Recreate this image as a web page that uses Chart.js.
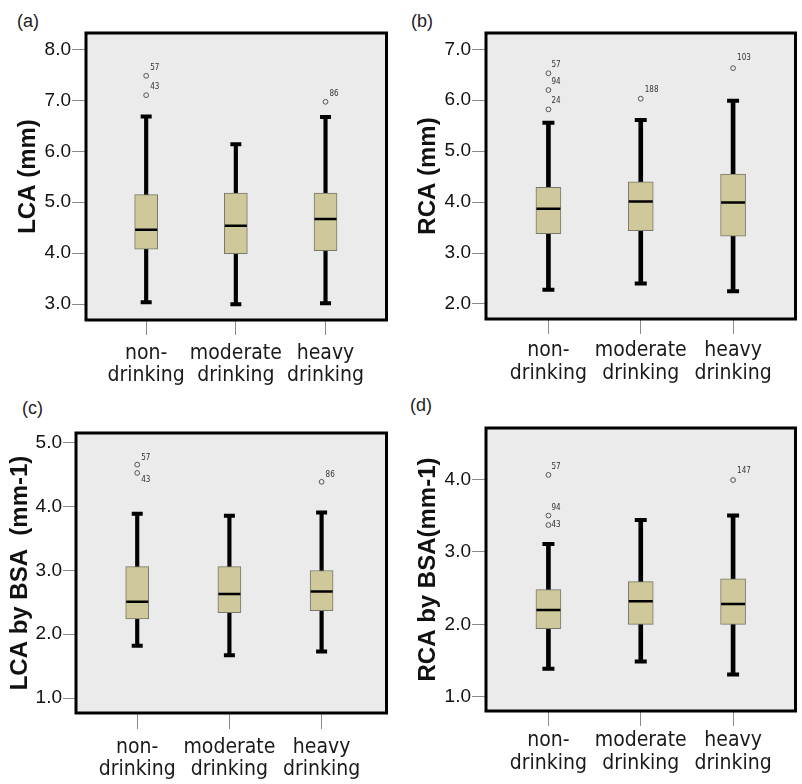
<!DOCTYPE html>
<html><head><meta charset="utf-8">
<script src="https://cdn.jsdelivr.net/npm/chart.js@4.4.0/dist/chart.umd.min.js"></script>
<style>
html,body{margin:0;padding:0;overflow:hidden;background:#fff;width:802px;height:784px}
.panel{position:absolute}
.tag{position:absolute;font:18px 'Liberation Sans',Arial,sans-serif;color:#222;line-height:18px}
</style></head><body>
<div class="tag" style="left:17px;top:12px">(a)</div>
<div class="tag" style="left:411px;top:12px">(b)</div>
<div class="tag" style="left:22px;top:399px">(c)</div>
<div class="tag" style="left:410px;top:396px">(d)</div>
<div class="panel" style="left:0;top:0"><canvas id="ca" width="400" height="390"></canvas></div>
<div class="panel" style="left:400px;top:0"><canvas id="cb" width="410" height="390"></canvas></div>
<div class="panel" style="left:0;top:390px"><canvas id="cc" width="400" height="394"></canvas></div>
<div class="panel" style="left:400px;top:390px"><canvas id="cd" width="410" height="394"></canvas></div>
<script>
// ---------- data ----------
const categories = ['non-drinking', 'moderate drinking', 'heavy drinking'];
const categoryLines = [['non-', 'drinking'], ['moderate', 'drinking'], ['heavy', 'drinking']];

// (a) LCA (mm)
const lcaLower  = [3.04, 3.00, 3.02];
const lcaQ1     = [4.08, 3.99, 4.05];
const lcaMedian = [4.46, 4.54, 4.67];
const lcaQ3     = [5.15, 5.18, 5.18];
const lcaUpper  = [6.68, 6.14, 6.67];
const lcaOutlierValues = [7.48, 7.10, 6.97];
const lcaOutlierGroups = [0, 0, 2];
const lcaOutlierIds    = ['57', '43', '86'];
const lcaTicks = [3, 4, 5, 6, 7, 8];

// (b) RCA (mm)
const rcaLower  = [2.28, 2.40, 2.25];
const rcaQ1     = [3.38, 3.44, 3.33];
const rcaMedian = [3.87, 4.01, 3.99];
const rcaQ3     = [4.29, 4.40, 4.55];
const rcaUpper  = [5.56, 5.61, 5.99];
const rcaOutlierValues = [6.53, 6.20, 5.82, 6.03, 6.63];
const rcaOutlierGroups = [0, 0, 0, 1, 2];
const rcaOutlierIds    = ['57', '94', '24', '188', '103'];
const rcaTicks = [2, 3, 4, 5, 6, 7];

// (c) LCA by BSA (mm-1)
const lcaBsaLower  = [1.82, 1.67, 1.73];
const lcaBsaQ1     = [2.24, 2.34, 2.37];
const lcaBsaMedian = [2.51, 2.63, 2.67];
const lcaBsaQ3     = [3.06, 3.06, 3.00];
const lcaBsaUpper  = [3.89, 3.86, 3.91];
const lcaBsaOutlierValues = [4.66, 4.53, 4.39];
const lcaBsaOutlierGroups = [0, 0, 2];
const lcaBsaOutlierIds    = ['57', '43', '86'];
const lcaBsaTicks = [1, 2, 3, 4, 5];

// (d) RCA by BSA (mm-1)
const rcaBsaLower  = [1.39, 1.49, 1.31];
const rcaBsaQ1     = [1.94, 2.00, 2.00];
const rcaBsaMedian = [2.20, 2.32, 2.28];
const rcaBsaQ3     = [2.48, 2.59, 2.63];
const rcaBsaUpper  = [3.11, 3.44, 3.50];
const rcaBsaOutlierValues = [4.06, 3.50, 3.37, 3.99];
const rcaBsaOutlierGroups = [0, 0, 0, 2];
const rcaBsaOutlierIds    = ['57', '94', '43', '147'];
const rcaBsaTicks = [1, 2, 3, 4];

// ---------- styling ----------
const NARROW = "'DejaVu Sans Condensed', 'Liberation Sans Narrow', sans-serif";
const SANS = "'Liberation Sans', Arial, sans-serif";
const BOX_FILL = '#CEC89B';
const PLOT_BG = '#EBEBEB';

const boxPlugin = {
  id: 'boxFrame',
  beforeDatasetsDraw(chart) {
    const {ctx, chartArea: a} = chart;
    ctx.save();
    ctx.fillStyle = PLOT_BG;
    ctx.fillRect(a.left, a.top, a.right - a.left, a.bottom - a.top);
    ctx.restore();
  },
  afterDatasetsDraw(chart, args, opts) {
    const {ctx, chartArea: a, scales} = chart;
    ctx.save();
    ctx.font = '8px ' + NARROW;
    ctx.fillStyle = '#333';
    ctx.textBaseline = 'middle';
    ctx.textAlign = 'left';
    (opts.values || []).forEach((v, i) => {
      const px = scales.x.getPixelForValue(opts.groups[i]);
      const py = scales.y.getPixelForValue(v);
      const off = opts.offsets[i];
      ctx.fillText(opts.ids[i], px + off[0], py + off[1]);
    });
    ctx.strokeStyle = '#000';
    ctx.lineWidth = 3;
    ctx.strokeRect(a.left, a.top, a.right - a.left, a.bottom - a.top);
    ctx.restore();
  }
};

function makePanel(id, p) {
  const idx = [0, 1, 2];
  const datasets = [
    { type: 'bar', data: idx.map(i => ({x: i, y: [p.lower[i], p.upper[i]]})),
      backgroundColor: '#000', borderWidth: 0, barThickness: p.whisker, grouped: false, order: 4 },
    { type: 'bar', data: idx.map(i => ({x: i, y: [p.q1[i], p.q3[i]]})),
      backgroundColor: BOX_FILL, borderColor: '#77776a', borderWidth: 1, borderSkipped: false,
      barThickness: p.boxW, grouped: false, order: 3 },
    { type: 'scatter', data: idx.map(i => ({x: i, y: p.lower[i]})).concat(idx.map(i => ({x: i, y: p.upper[i]}))),
      pointStyle: 'line', pointRadius: p.capR, pointBorderWidth: 4, pointBorderColor: '#000', order: 2 },
    { type: 'scatter', data: idx.map(i => ({x: i, y: p.median[i]})),
      pointStyle: 'line', pointRadius: p.boxW / 2 - 0.5, pointBorderWidth: 2.5, pointBorderColor: '#000', order: 1 },
    { type: 'scatter', data: p.outVals.map((v, i) => ({x: p.outGroups[i], y: v})),
      pointStyle: 'circle', pointRadius: 2.4, pointBorderWidth: 1, pointBorderColor: '#555',
      pointBackgroundColor: 'rgba(0,0,0,0)', order: 0 }
  ];
  new Chart(document.getElementById(id), {
    type: 'bar',
    data: { datasets },
    plugins: [boxPlugin],
    options: {
      responsive: false, animation: false, events: [],
      layout: { padding: { top: p.padTop, right: p.padRight, left: 0, bottom: 0 } },
      plugins: {
        legend: { display: false }, tooltip: { enabled: false },
        boxFrame: { values: p.outVals, groups: p.outGroups, ids: p.outIds, offsets: p.outOffsets }
      },
      scales: {
        x: {
          type: 'linear', min: p.xMin, max: p.xMax, offset: false,
          afterBuildTicks: s => { s.ticks = idx.map(v => ({value: v})); },
          afterFit: s => { s.height = p.xH; },
          grid: { display: true, drawOnChartArea: false, drawTicks: true, tickLength: p.xTick, tickColor: '#8a8a8a', offset: false },
          border: { display: false },
          ticks: { autoSkip: false, maxRotation: 0, padding: p.xPad, color: '#1a1a1a',
                   font: { family: NARROW, size: 21, lineHeight: 1.05 },
                   callback: v => categoryLines[v] }
        },
        y: {
          type: 'linear', min: p.yMin, max: p.yMax,
          afterBuildTicks: s => { s.ticks = p.ticks.map(v => ({value: v})); },
          afterFit: s => { s.width = p.yW; },
          grid: { display: true, drawOnChartArea: false, drawTicks: true, tickLength: p.yTick, tickColor: '#8a8a8a' },
          border: { display: false },
          ticks: { padding: 1, color: '#111', font: { family: SANS, size: 19 },
                   callback: v => Number(v).toFixed(1) },
          title: { display: true, text: p.title, color: '#111', padding: { top: p.titlePad, bottom: 0 },
                   font: { family: SANS, size: 24, weight: 'bold', lineHeight: 1.2 } }
        }
      }
    }
  });
}

makePanel('ca', {
  lower: lcaLower, q1: lcaQ1, median: lcaMedian, q3: lcaQ3, upper: lcaUpper,
  outVals: lcaOutlierValues, outGroups: lcaOutlierGroups, outIds: lcaOutlierIds,
  outOffsets: [[4, -8], [4, -8], [4, -8]],
  ticks: lcaTicks, yMin: 2.69, yMax: 8.32, xMin: -0.671, xMax: 2.68,
  padTop: 33, padRight: 3, yW: 86, xH: 70, xTick: 15, yTick: 14, xPad: 7.5,
  boxW: 23, whisker: 3.5, capR: 5.5, title: 'LCA (mm)', titlePad: 14
});
makePanel('cb', {
  lower: rcaLower, q1: rcaQ1, median: rcaMedian, q3: rcaQ3, upper: rcaUpper,
  outVals: rcaOutlierValues, outGroups: rcaOutlierGroups, outIds: rcaOutlierIds,
  outOffsets: [[3, -8], [3, -8], [3, -8], [4, -9], [4, -10]],
  ticks: rcaTicks, yMin: 1.705, yMax: 7.32, xMin: -0.676, xMax: 2.676,
  padTop: 33, padRight: 2, yW: 86, xH: 71, xTick: 15, yTick: 14, xPad: 6,
  boxW: 25, whisker: 4, capR: 6, title: 'RCA (mm)', titlePad: 14
});
makePanel('cc', {
  lower: lcaBsaLower, q1: lcaBsaQ1, median: lcaBsaMedian, q3: lcaBsaQ3, upper: lcaBsaUpper,
  outVals: lcaBsaOutlierValues, outGroups: lcaBsaOutlierGroups, outIds: lcaBsaOutlierIds,
  outOffsets: [[4, -7], [4, 7], [4, -7]],
  ticks: lcaBsaTicks, yMin: 0.765, yMax: 5.156, xMin: -0.664, xMax: 2.704,
  padTop: 43, padRight: 3, yW: 76, xH: 71, xTick: 16, yTick: 13, xPad: 7.5,
  boxW: 23, whisker: 3.5, capR: 5.5, title: 'LCA by BSA  (mm-1)', titlePad: 6
});
makePanel('cd', {
  lower: rcaBsaLower, q1: rcaBsaQ1, median: rcaBsaMedian, q3: rcaBsaQ3, upper: rcaBsaUpper,
  outVals: rcaBsaOutlierValues, outGroups: rcaBsaOutlierGroups, outIds: rcaBsaOutlierIds,
  outOffsets: [[3, -8], [3, -8], [3, 0], [4, -9]],
  ticks: rcaBsaTicks, yMin: 0.807, yMax: 4.707, xMin: -0.676, xMax: 2.676,
  padTop: 38, padRight: 2, yW: 86, xH: 73, xTick: 15, yTick: 14, xPad: 4,
  boxW: 25, whisker: 4, capR: 6, title: 'RCA by BSA(mm-1)', titlePad: 14
});
</script>
</body></html>
